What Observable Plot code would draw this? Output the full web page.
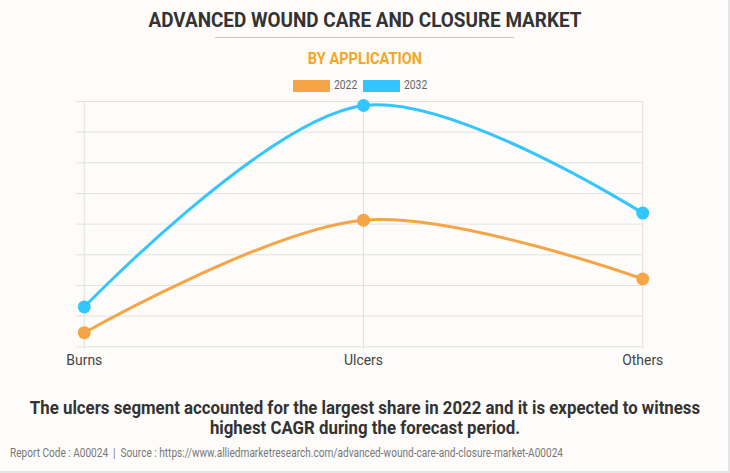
<!DOCTYPE html>
<html>
<head>
<meta charset="utf-8">
<script src="https://cdn.jsdelivr.net/npm/d3@7"></script>
<script src="https://cdn.jsdelivr.net/npm/@observablehq/plot@0.6"></script>
<style>
  html, body { margin: 0; padding: 0; }
  body { width: 730px; height: 473px; background: #fdfcfa; overflow: hidden; }
  #frame { position: relative; width: 728px; height: 471px; border-right: 2px solid #e4e4e4; border-bottom: 2px solid #e4e4e4; background: #fdfcfa; font-family: "Roboto", sans-serif; }
  .title { position: absolute; top: 8px; left: 0; width: 730px; text-align: center; font-weight: bold; font-size: 21px; color: #333; transform: scaleX(0.9); transform-origin: 365px 0; }
  .rule { position: absolute; top: 37px; left: 215px; width: 299px; height: 1px; background: #c8c8c8; }
  .subtitle { position: absolute; top: 49px; left: 0; width: 730px; text-align: center; font-weight: bold; font-size: 16px; color: #f5a623; transform: scaleX(0.91); transform-origin: 365px 0; }
  .sw { position: absolute; top: 80px; width: 37px; height: 12px; }
  .lb { position: absolute; top: 78px; font-size: 12px; color: #666; transform: scaleX(0.86); transform-origin: 0 0; }
  #chart { position: absolute; top: 95px; left: 0; }
  .caption { position: absolute; top: 398px; left: 0; width: 730px; text-align: center; font-weight: bold; font-size: 18px; line-height: 20px; color: #333; transform: scaleX(0.935); transform-origin: 365px 0; }
  .footer { position: absolute; top: 446px; left: 10px; font-size: 12px; color: #777; white-space: nowrap; transform: scaleX(0.84); transform-origin: 0 0; }
</style>
</head>
<body>
<div id="frame">
  <div class="title">ADVANCED WOUND CARE AND CLOSURE MARKET</div>
  <div class="rule"></div>
  <div class="subtitle">BY APPLICATION</div>
  <div id="legend"></div>
  <div id="chart"></div>
  <div class="caption">The ulcers segment accounted for the largest share in 2022 and it is expected to witness<br>highest CAGR during the forecast period.</div>
  <div class="footer">Report Code : A00024&nbsp; |&nbsp; Source : https://www.alliedmarketresearch.com/advanced-wound-care-and-closure-market-A00024</div>
</div>
<script>
const categories = ["Burns", "Ulcers", "Others"];
const values2022 = [0.46, 4.13, 2.21];
const values2032 = [1.3, 7.87, 4.36];
const seriesNames = ["2022", "2032"];
const seriesColors = ["#f5a545", "#33c5fd"];

const data = [];
categories.forEach((c, i) => {
  data.push({category: c, year: "2022", value: values2022[i]});
  data.push({category: c, year: "2032", value: values2032[i]});
});

const legend = document.getElementById("legend");
const legendX = [293, 363];
seriesNames.forEach((s, i) => {
  const sw = document.createElement("div");
  sw.className = "sw";
  sw.style.left = legendX[i] + "px";
  sw.style.background = seriesColors[i];
  const lb = document.createElement("div");
  lb.className = "lb";
  lb.style.left = (legendX[i] + 41) + "px";
  lb.textContent = s;
  legend.appendChild(sw);
  legend.appendChild(lb);
});

const chart = Plot.plot({
  width: 730,
  height: 275,
  marginLeft: 84,
  marginRight: 86,
  marginTop: 6,
  marginBottom: 23,
  style: {background: "transparent", fontFamily: "Roboto, sans-serif", fontSize: "14px", color: "#444"},
  x: {type: "point", domain: categories, padding: 0, label: null},
  y: {domain: [0, 8], label: null},
  color: {domain: seriesNames, range: seriesColors},
  marks: [
    Plot.gridY(d3.range(0, 9), {stroke: "#e2e2e2", strokeOpacity: 1}),
    Plot.axisY(d3.range(0, 9), {tickSize: 8, tickFormat: () => "", stroke: "#e2e2e2", label: null}),
    Plot.gridX(categories, {stroke: "#e0e0e0", strokeOpacity: 1, y1: 0, y2: 8}),
    Plot.axisX({tickSize: 3, stroke: "#e0e0e0", tickPadding: 5, fontSize: 14, fill: "#444", label: null}),
    Plot.line(data, {x: "category", y: "value", stroke: "year", z: "year", strokeWidth: 3, curve: "catmull-rom"}),
    Plot.dot(data, {x: "category", y: "value", fill: "year", r: 6.5})
  ]
});
document.getElementById("chart").appendChild(chart);
</script>
</body>
</html>
